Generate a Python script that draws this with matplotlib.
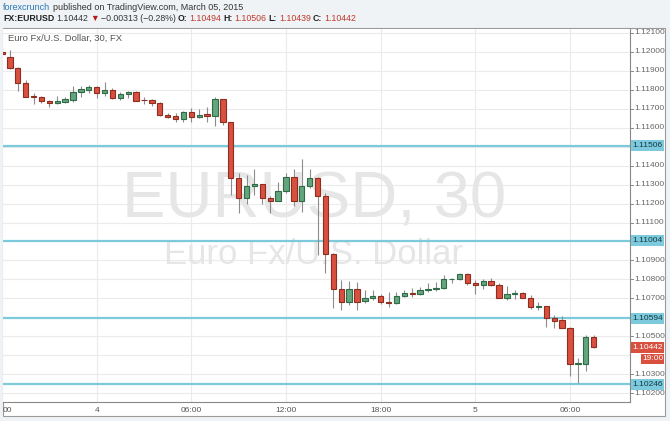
import matplotlib
matplotlib.use('Agg')
import matplotlib.pyplot as plt
from matplotlib.patches import Rectangle
import numpy as np

# 30 minute EURUSD candles, index 0 = 18:00 March 3
opens = [1.12000, 1.11975, 1.11914, 1.11835, 1.11768, 1.11764, 1.11741, 1.11732, 1.11737, 1.11746,
         1.11790, 1.11801, 1.11815, 1.11782, 1.11799, 1.11759, 1.11777, 1.11787, 1.11746, 1.11746,
         1.11729, 1.11667, 1.11662, 1.11645, 1.11683, 1.11655, 1.11670, 1.11664, 1.11750, 1.11629,
         1.11336, 1.11231, 1.11294, 1.11302, 1.11228, 1.11215, 1.11266, 1.11342, 1.11215, 1.11293,
         1.11333, 1.11240, 1.10932, 1.10747, 1.10679, 1.10747, 1.10686, 1.10700, 1.10712, 1.10682,
         1.10674, 1.10712, 1.10730, 1.10723, 1.10744, 1.10748, 1.10756, 1.10800, 1.10800, 1.10827,
         1.10782, 1.10770, 1.10791, 1.10770, 1.10703, 1.10721, 1.10728, 1.10703, 1.10653, 1.10661,
         1.10594, 1.10585, 1.10542, 1.10355, 1.10355, 1.10494]
highs = [1.12020, 1.12010, 1.11922, 1.11852, 1.11782, 1.11769, 1.11745, 1.11769, 1.11762, 1.11822,
         1.11820, 1.11825, 1.11820, 1.11843, 1.11810, 1.11788, 1.11795, 1.11793, 1.11761, 1.11751,
         1.11734, 1.11677, 1.11676, 1.11687, 1.11703, 1.11698, 1.11711, 1.11764, 1.11750, 1.11629,
         1.11361, 1.11350, 1.11382, 1.11302, 1.11240, 1.11312, 1.11360, 1.11382, 1.11433, 1.11380,
         1.11342, 1.11254, 1.10940, 1.10797, 1.10793, 1.10788, 1.10744, 1.10744, 1.10725, 1.10735,
         1.10735, 1.10745, 1.10753, 1.10762, 1.10782, 1.10787, 1.10823, 1.10806, 1.10835, 1.10835,
         1.10797, 1.10800, 1.10806, 1.10779, 1.10765, 1.10744, 1.10735, 1.10717, 1.10682, 1.10661,
         1.10612, 1.10607, 1.10548, 1.10387, 1.10506, 1.10506]
lows = [1.11985, 1.11910, 1.11795, 1.11761, 1.11724, 1.11729, 1.11711, 1.11724, 1.11730, 1.11738,
        1.11760, 1.11782, 1.11755, 1.11768, 1.11752, 1.11747, 1.11757, 1.11740, 1.11724, 1.11713,
        1.11662, 1.11651, 1.11632, 1.11632, 1.11632, 1.11650, 1.11632, 1.11610, 1.11615, 1.11245,
        1.11150, 1.11198, 1.11245, 1.11198, 1.11152, 1.11215, 1.11257, 1.11187, 1.11154, 1.11284,
        1.10929, 1.10832, 1.10647, 1.10638, 1.10665, 1.10638, 1.10675, 1.10690, 1.10672, 1.10656,
        1.10670, 1.10705, 1.10709, 1.10718, 1.10735, 1.10740, 1.10750, 1.10779, 1.10797, 1.10771,
        1.10721, 1.10749, 1.10767, 1.10700, 1.10691, 1.10695, 1.10700, 1.10642, 1.10638, 1.10550,
        1.10545, 1.10542, 1.10292, 1.10251, 1.10316, 1.10439]
closes = [1.11990, 1.11914, 1.11835, 1.11764, 1.11761, 1.11741, 1.11732, 1.11741, 1.11750, 1.11790,
          1.11803, 1.11815, 1.11782, 1.11799, 1.11759, 1.11778, 1.11787, 1.11743, 1.11745, 1.11729,
          1.11667, 1.11658, 1.11645, 1.11683, 1.11655, 1.11667, 1.11664, 1.11750, 1.11629, 1.11336,
          1.11231, 1.11294, 1.11302, 1.11228, 1.11215, 1.11266, 1.11342, 1.11215, 1.11293, 1.11333,
          1.11240, 1.10932, 1.10747, 1.10679, 1.10747, 1.10681, 1.10700, 1.10712, 1.10682, 1.10674,
          1.10712, 1.10730, 1.10723, 1.10744, 1.10748, 1.10756, 1.10800, 1.10801, 1.10827, 1.10782,
          1.10770, 1.10791, 1.10770, 1.10703, 1.10721, 1.10730, 1.10703, 1.10653, 1.10661, 1.10594,
          1.10582, 1.10542, 1.10353, 1.10357, 1.10497, 1.10442]

levels = [1.11506, 1.11004, 1.10594, 1.10246]
yTicks = [1.121, 1.120, 1.119, 1.118, 1.117, 1.116, 1.114, 1.113, 1.112, 1.111,
          1.109, 1.108, 1.107, 1.105, 1.103, 1.102]
xTickPos = [12, 24, 36, 48, 60, 72]
xTickLabels = ['4', '06:00', '12:00', '18:00', '5', '06:00']
lastPrice = 1.10442

W, H = 670, 421
fig = plt.figure(figsize=(6.7, 4.21), dpi=100, facecolor='#f0f3f6')

# pixel helper (origin top left)
def px(x, y):
    return x / W, 1 - y / H

# white panel behind the chart
fig.patches.append(Rectangle(px(3, 416), 662 / W, 388 / H, transform=fig.transFigure,
                             facecolor='white', edgecolor='#9a9a9a', linewidth=0.8, zorder=-1))

ax = fig.add_axes([3 / W, 1 - 402 / H, 627 / W, 373 / H])
ax.set_zorder(1)
ax.set_facecolor('white')
ax.set_xlim(0.13, 79.6)
ax.set_ylim(1.10153, 1.12121)
for s in ['top', 'left']:
    ax.spines[s].set_visible(False)
ax.spines['right'].set_color('#888888')
ax.spines['bottom'].set_color('#888888')
ax.tick_params(left=False, labelleft=False, bottom=False, labelbottom=False)

# grid
for y in np.arange(1.102, 1.1215, 0.001):
    ax.axhline(y, color='#ebebeb', lw=0.8, zorder=0)
for x in [0] + xTickPos:
    ax.axvline(x, color='#ebebeb', lw=0.8, zorder=0)

# watermark (placed on its baseline, in price units of the axis)
ax.text(39.5, 1.11129, 'EURUSD, 30', fontsize=47, color='#e6e6e6', ha='center', va='baseline',
        family='Liberation Sans', zorder=0.5)
ax.text(39.5, 1.10881, 'Euro Fx/U.S. Dollar', fontsize=25, color='#e6e6e6', ha='center', va='baseline',
        family='Liberation Sans', zorder=0.5)
ax.text(*px(5, 38 - 27), 'Euro Fx/U.S. Dollar, 30, FX', fontsize=6.8, color='#555555', va='center',
        family='Liberation Sans', transform=ax.transAxes, zorder=4)

# support / resistance lines
for lv in levels:
    ax.axhline(lv, color='#7ccadb', lw=1.6, zorder=1)

# candles
t = np.arange(len(opens))
o = np.array(opens)
c = np.array(closes)
up = c >= o
ax.vlines(t, lows, highs, color='#8c8c8c', lw=0.8, zorder=2)
bodyLow = np.minimum(o, c)
bodyH = np.maximum(np.abs(c - o), 0.000015)
ax.bar(t[up], bodyH[up], bottom=bodyLow[up], width=0.68, color='#63a57c', edgecolor='#2f6b46',
       linewidth=0.8, zorder=3)
ax.bar(t[~up], bodyH[~up], bottom=bodyLow[~up], width=0.68, color='#d9503f', edgecolor='#8e2d20',
       linewidth=0.8, zorder=3)

# right axis labels
lab = dict(fontsize=6, family='Liberation Sans', va='center')
for y in yTicks:
    yy = H - ax.transData.transform((0, y))[1]
    fig.add_artist(plt.Line2D([630 / W, 633 / W], [1 - yy / H, 1 - yy / H], color='#888888', lw=0.7))
    fig.text(*px(634, yy), '%.5f' % y, color='#666666', **lab)

def boxLabel(y, text, face, fg, x0=631, w=33):
    yy = H - ax.transData.transform((0, y))[1]
    fig.patches.append(Rectangle(px(x0, yy + 5.5), w / W, 11 / H, transform=fig.transFigure,
                                 facecolor=face, edgecolor='none', zorder=5))
    fig.text(*px(x0 + w / 2, yy), text, color=fg, ha='center', zorder=6, **lab)

for lv in levels:
    boxLabel(lv, '%.5f' % lv, '#7ccadb', '#123845')
boxLabel(lastPrice, '%.5f' % lastPrice, '#d9503f', 'white')
yyLast = H - ax.transData.transform((0, lastPrice))[1]
fig.patches.append(Rectangle(px(641, yyLast + 16.5), 23 / W, 10 / H, transform=fig.transFigure,
                             facecolor='#d9503f', edgecolor='none', zorder=5))
fig.text(*px(652.5, yyLast + 11.5), '19:00', color='white', ha='center', zorder=6, **lab)

# bottom axis labels
for pos, s in zip(xTickPos, xTickLabels):
    xx = ax.transData.transform((pos, 0))[0]
    fig.text(xx / W, 1 - 410 / H, s, color='#555555', ha='center', **lab)
fig.text(*px(3, 410), '00', color='#555555', ha='left', **lab)

# header rows
renderer = fig.canvas.get_renderer()

def drawRow(parts, x, y, size, gap):
    for s, color, weight in parts:
        txt = fig.text(*px(x, y), s, color=color, fontweight=weight, fontsize=size,
                       family='Liberation Sans', va='center')
        bb = txt.get_window_extent(renderer=renderer)
        x += bb.width + gap

drawRow([('forexcrunch', '#2a76b6', 'normal'),
         ('published on TradingView.com, March 05, 2015', '#333333', 'normal')], 3, 7, 6.5, 3)
drawRow([('FX:EURUSD', '#222222', 'bold'),
         ('1.10442', '#333333', 'normal'),
         ('\u25bc', '#b71c1c', 'normal'),
         ('\u22120.00313 (\u22120.28%)', '#333333', 'normal'),
         ('O:', '#222222', 'bold'),
         ('1.10494', '#c0392b', 'normal'),
         ('H:', '#222222', 'bold'),
         ('1.10506', '#c0392b', 'normal'),
         ('L:', '#222222', 'bold'),
         ('1.10439', '#c0392b', 'normal'),
         ('C:', '#222222', 'bold'),
         ('1.10442', '#c0392b', 'normal')], 3, 18.5, 6.3, 2)

fig.savefig('out.png', dpi=100, facecolor=fig.get_facecolor())
